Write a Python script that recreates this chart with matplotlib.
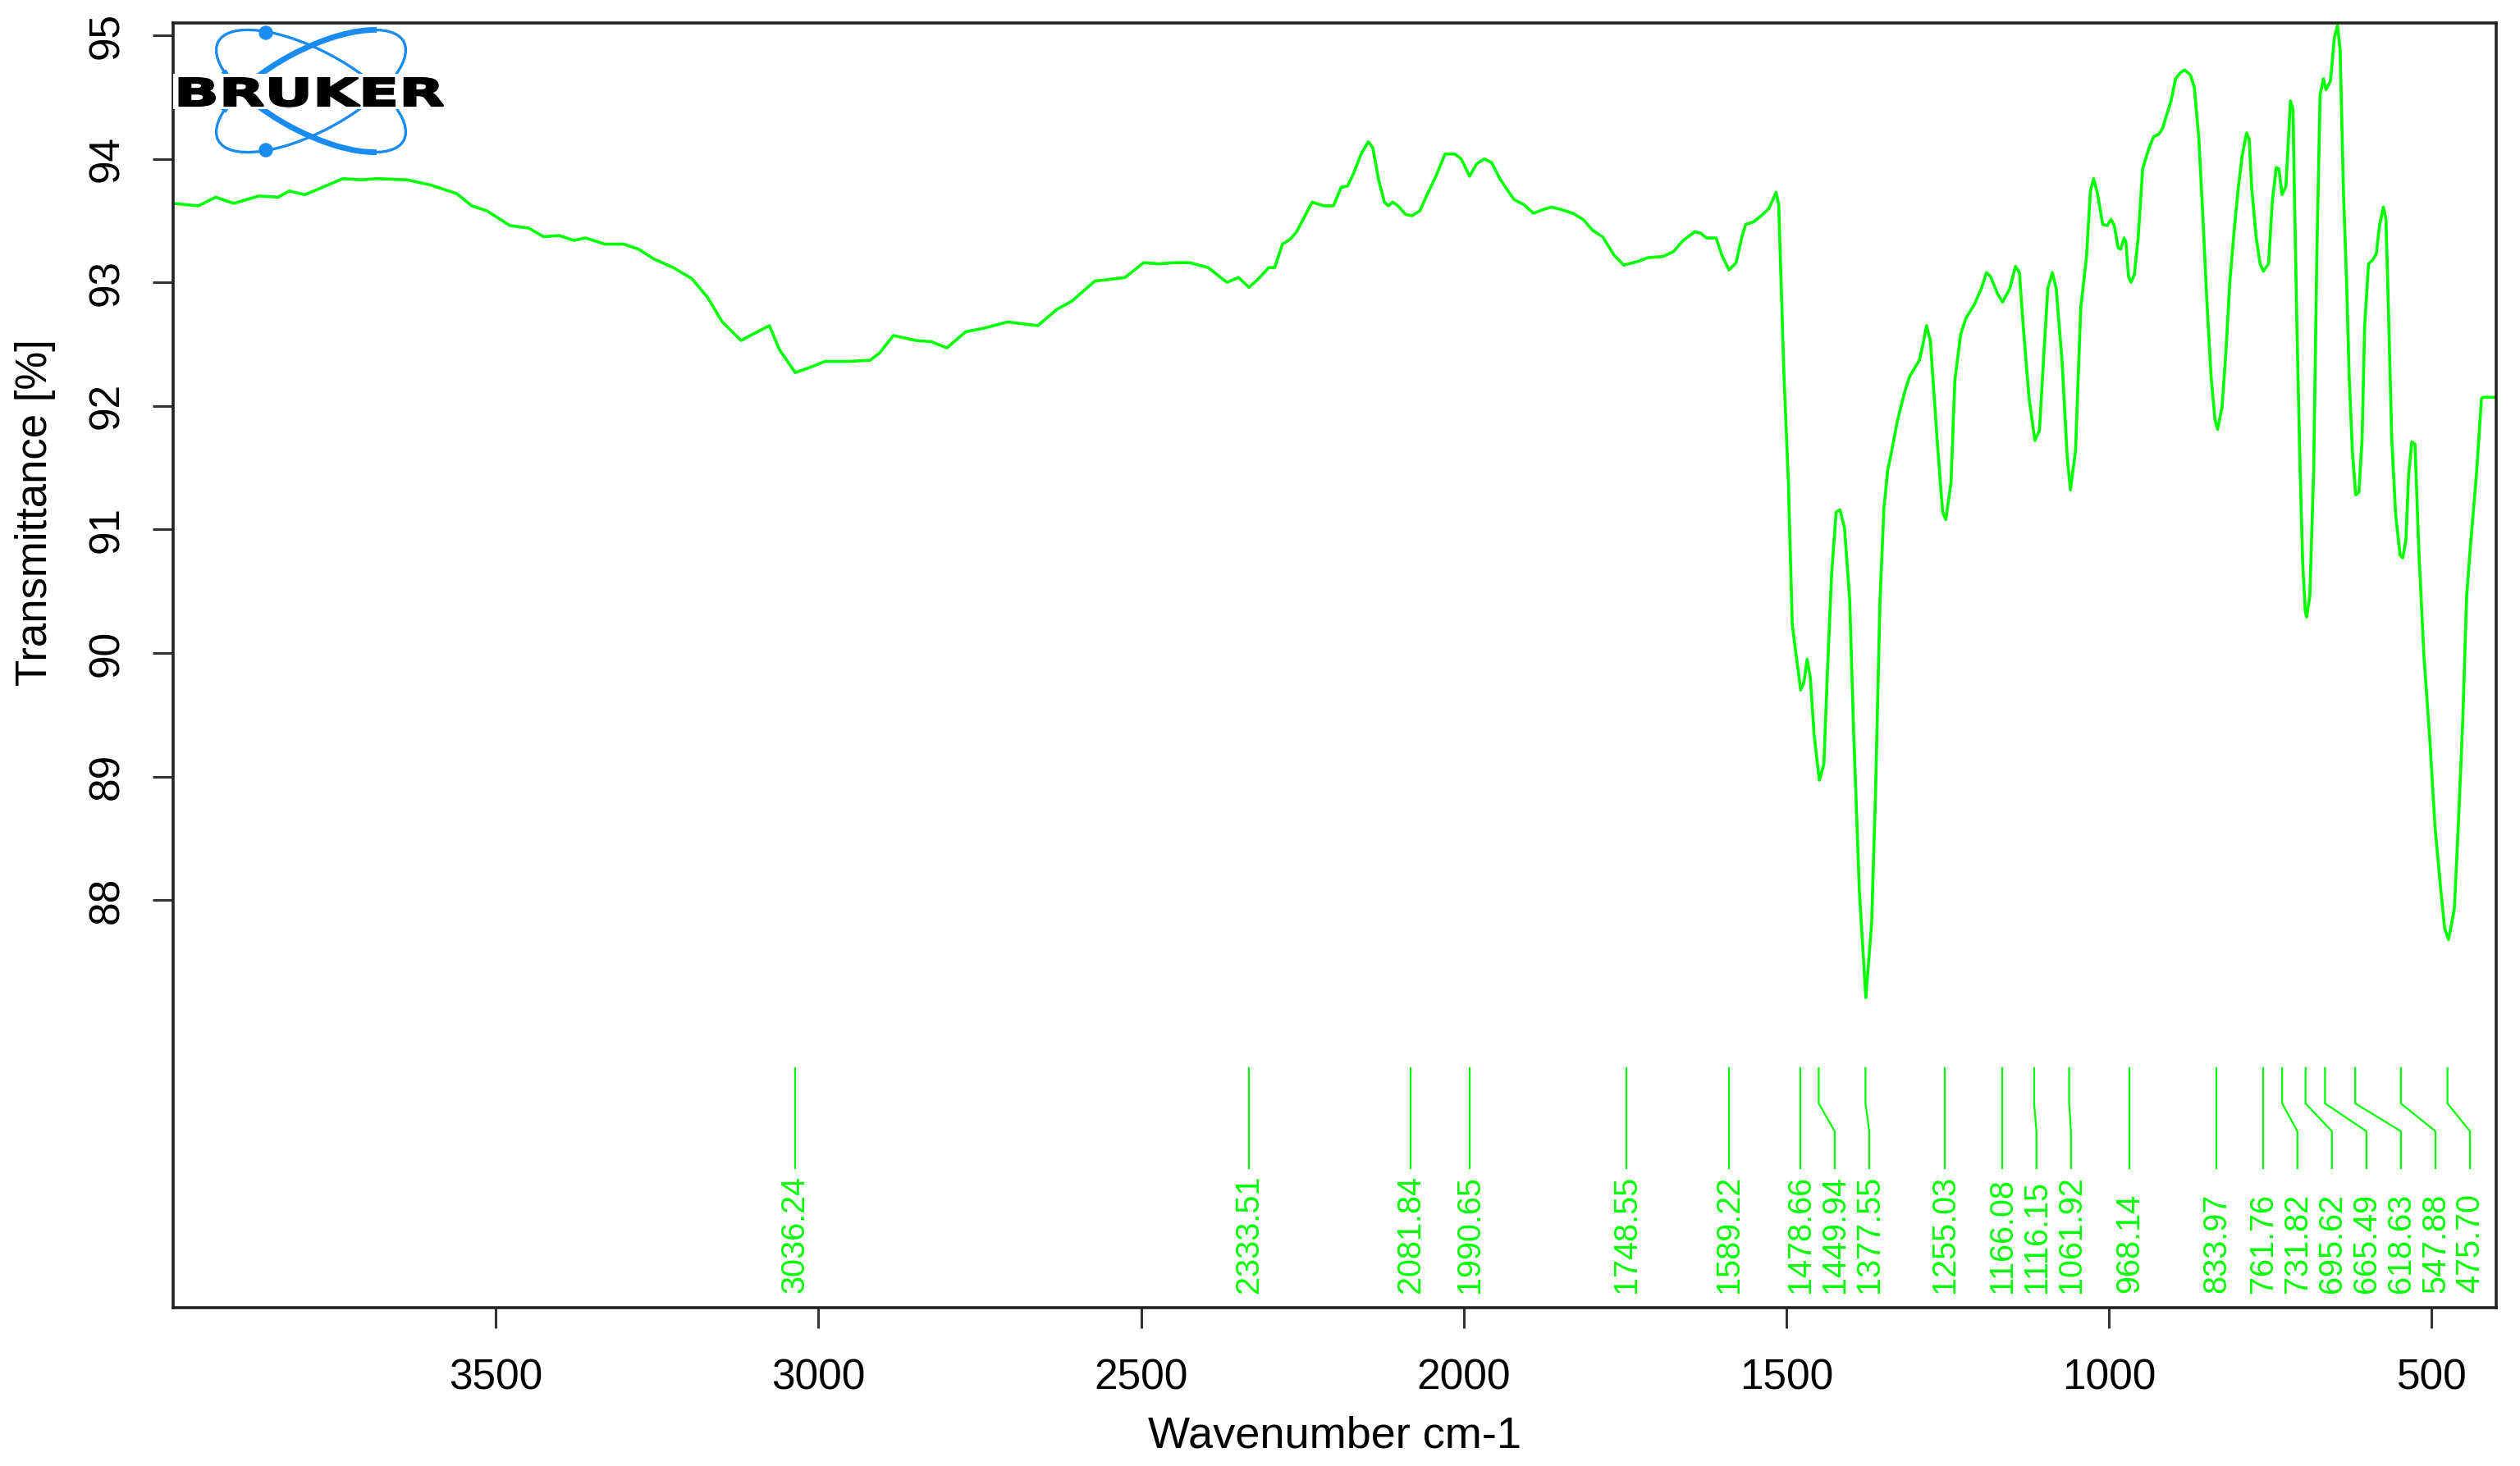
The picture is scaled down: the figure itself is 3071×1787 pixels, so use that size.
import matplotlib
matplotlib.use("Agg")
import matplotlib.pyplot as plt
from matplotlib import patheffects
from matplotlib.patches import Ellipse, Arc, Rectangle, Circle
from matplotlib.transforms import Affine2D
import numpy as np

plt.rcParams['font.family'] = ['Liberation Sans', 'DejaVu Sans']

# spectrum (wavenumber cm-1, transmittance %)
wavenumber = [
    4000, 3961, 3934, 3906, 3867, 3837, 3820, 3796, 3773, 3737, 3708, 3684, 3637, 3602,
    3561, 3537, 3514, 3478, 3449, 3426, 3402, 3379, 3361, 3331, 3302, 3279, 3255, 3225,
    3196, 3172, 3149, 3120, 3102, 3076, 3061, 3036, 3014, 2990, 2955, 2920, 2905, 2884,
    2849, 2825, 2801, 2772, 2743, 2707, 2660, 2631, 2607, 2572, 2525, 2496, 2472, 2449,
    2425, 2396, 2367, 2349, 2333, 2320, 2302, 2293, 2281, 2269, 2259, 2247, 2235, 2217,
    2202, 2190, 2180, 2171, 2159, 2148, 2141, 2132, 2123, 2117, 2110, 2102, 2090, 2080,
    2068, 2056, 2044, 2029, 2014, 2004, 1991, 1980, 1968, 1957, 1943, 1934, 1922, 1907,
    1892, 1877, 1864, 1849, 1831, 1815, 1800, 1785, 1767, 1752, 1730, 1715, 1691, 1675,
    1660, 1642, 1633, 1624, 1609, 1600, 1589, 1578, 1569, 1563, 1551, 1539, 1527, 1516,
    1512, 1504, 1497, 1491, 1478, 1473, 1468, 1463, 1457, 1449, 1442, 1436, 1430, 1423,
    1417, 1410, 1402, 1396, 1387, 1377, 1368, 1362, 1355, 1349, 1343, 1336, 1328, 1317,
    1309, 1294, 1288, 1283, 1277, 1266, 1258, 1253, 1245, 1239, 1230, 1222, 1209, 1198,
    1190, 1184, 1173, 1165, 1154, 1145, 1139, 1133, 1124, 1115, 1108, 1101, 1095, 1088,
    1082, 1073, 1065, 1060, 1052, 1044, 1035, 1029, 1024, 1018, 1010, 1003, 997, 992,
    986, 982, 977, 974, 970, 966, 961, 955, 948, 944, 938, 931, 923, 917, 910, 904, 897,
    889, 883, 874, 868, 861, 855, 849, 842, 836, 832, 825, 819, 813, 806, 800, 794, 787,
    783, 779, 772, 766, 761, 753, 747, 741, 737, 732, 726, 719, 715, 713, 709, 704, 700,
    696, 694, 689, 683, 678, 673, 668, 664, 657, 651, 646, 642, 637, 632, 628, 623, 618,
    613, 608, 604, 598, 592, 586, 581, 575, 571, 567, 562, 556, 549, 545, 540, 536, 531,
    526, 520, 512, 503, 495, 486, 480, 474, 465, 459, 452, 446, 440, 431, 423, 420, 400,
]
transmittance = [
    93.64, 93.62, 93.69, 93.64, 93.70, 93.69, 93.74, 93.71, 93.76, 93.84, 93.83, 93.84, 93.83, 93.79,
    93.72, 93.62, 93.58, 93.46, 93.44, 93.37, 93.38, 93.34, 93.36, 93.31, 93.31, 93.27, 93.19, 93.12,
    93.03, 92.88, 92.68, 92.53, 92.58, 92.65, 92.46, 92.27, 92.31, 92.36, 92.36, 92.37, 92.43, 92.57,
    92.53, 92.52, 92.47, 92.60, 92.63, 92.68, 92.65, 92.78, 92.85, 93.01, 93.04, 93.16, 93.15, 93.16,
    93.16, 93.12, 93.00, 93.04, 92.96, 93.02, 93.12, 93.12, 93.31, 93.35, 93.41, 93.53, 93.65, 93.62,
    93.62, 93.77, 93.78, 93.88, 94.04, 94.14, 94.09, 93.83, 93.65, 93.62, 93.65, 93.62, 93.55, 93.54,
    93.58, 93.72, 93.85, 94.04, 94.04, 94.00, 93.86, 93.96, 94.00, 93.97, 93.83, 93.76, 93.67, 93.63,
    93.56, 93.59, 93.61, 93.59, 93.56, 93.51, 93.42, 93.37, 93.22, 93.14, 93.17, 93.20, 93.21, 93.25,
    93.34, 93.41, 93.40, 93.36, 93.36, 93.22, 93.10, 93.16, 93.37, 93.47, 93.49, 93.54, 93.60, 93.73,
    93.63, 92.27, 91.38, 90.23, 89.70, 89.76, 89.95, 89.80, 89.33, 88.97, 89.10, 89.91, 90.64, 91.14,
    91.16, 91.01, 90.43, 89.38, 88.07, 87.21, 87.81, 88.86, 90.43, 91.17, 91.48, 91.66, 91.88, 92.11,
    92.24, 92.37, 92.51, 92.65, 92.53, 91.69, 91.14, 91.08, 91.38, 92.21, 92.58, 92.71, 92.82, 92.95,
    93.08, 93.05, 92.91, 92.84, 92.95, 93.13, 93.08, 92.64, 92.06, 91.72, 91.80, 92.43, 92.95, 93.08,
    92.95, 92.37, 91.59, 91.32, 91.64, 92.79, 93.21, 93.74, 93.84, 93.72, 93.47, 93.46, 93.51, 93.46,
    93.28, 93.27, 93.36, 93.33, 93.05, 93.00, 93.06, 93.36, 93.92, 93.99, 94.09, 94.18, 94.20, 94.25, 94.37, 94.47, 94.65,
    94.70, 94.72, 94.68, 94.58, 94.17, 93.56, 92.90, 92.24, 91.89, 91.81, 91.99, 92.44, 93.00, 93.43, 93.76, 94.02, 94.21,
    94.16, 93.76, 93.36, 93.15, 93.09, 93.15, 93.66, 93.93, 93.92, 93.71, 93.78, 94.47, 94.40, 93.76, 92.65, 91.48, 90.72,
    90.34, 90.29, 90.46, 91.48, 93.26, 94.52, 94.65, 94.56, 94.63, 94.98, 95.08, 94.88, 93.76, 93.00, 92.24, 91.63, 91.28,
    91.30, 91.73, 92.65, 93.15, 93.18, 93.23, 93.46, 93.61, 93.51, 92.75, 91.73, 91.12, 90.79, 90.77, 90.92, 91.43, 91.71,
    91.69, 90.82, 89.96, 89.30, 88.59, 88.08, 87.77, 87.68, 87.93, 88.59, 89.45, 90.46, 90.87, 91.43, 92.06, 92.07, 92.07,
]

peaks = [3036.24, 2333.51, 2081.84, 1990.65, 1748.55, 1589.22, 1478.66, 1449.94, 1377.55,
         1255.03, 1166.08, 1116.15, 1061.92, 968.14, 833.97, 761.76, 731.82, 695.62,
         665.49, 618.63, 547.88, 475.70]

xticks = [3500, 3000, 2500, 2000, 1500, 1000, 500]
yticks = [88, 89, 90, 91, 92, 93, 94, 95]

green = '#00ff00'
blue = '#1a8cf0'

fig = plt.figure(figsize=(30.71, 17.87), dpi=100)
ax = fig.add_axes([0.0687, 0.108, 0.9219, 0.8763])

ax.plot(wavenumber, transmittance, color=green, lw=2.6)
ax.set_xlim(4000, 400)
ax.set_ylim(84.7, 95.1)

ax.set_xticks(xticks)
ax.set_yticks(yticks)
for s in ax.spines.values():
    s.set_linewidth(2.6)
    s.set_color('#222222')
ax.tick_params(axis='both', length=18, width=2.2, color='#333333', labelsize=37)
ax.tick_params(axis='x', pad=26)
ax.tick_params(axis='y', pad=22, labelrotation=90)
plt.setp(ax.get_yticklabels(), va='center')

ax.set_xlabel('Wavenumber cm-1', fontsize=39)
ax.xaxis.set_label_coords(0.5, -0.1)
ax.xaxis.label.set_va('center')
ax.set_ylabel('Transmittance [%]', fontsize=38)
ax.yaxis.set_label_coords(-0.0594, 0.619)
ax.yaxis.label.set_va('center')

# peak picking marks, labels pushed apart where they crowd
gap = 53.5
label_pos = []
for p in peaks:
    q = p if not label_pos else min(p, label_pos[-1] - gap)
    label_pos.append(q)

trans = ax.get_xaxis_transform()
for p, q in zip(peaks, label_pos):
    ax.plot([p, p, q, q], [0.1865, 0.159, 0.1373, 0.1086], color=green, lw=1.6,
            transform=trans, clip_on=False)
    ax.text(q, 0.0115, f'{p:.2f}', transform=trans, rotation=90, ha='center', va='bottom',
            fontsize=28.5, color=green)


# BRUKER logo, drawn in figure pixel coordinates
class HStretch(patheffects.AbstractPathEffect):
    # widen the glyphs and thicken them a little
    def __init__(self, sx, lw):
        super().__init__()
        self.sx = sx
        self.lw = lw

    def draw_path(self, renderer, gc, tpath, affine, rgbFace=None):
        tr = Affine2D().scale(self.sx, 1.0) + affine
        gc0 = renderer.new_gc()
        gc0.copy_properties(gc)
        gc0.set_linewidth(self.lw)
        gc0.set_foreground(rgbFace)
        gc0.set_joinstyle('miter')
        renderer.draw_path(gc0, tpath, tr, rgbFace)
        gc0.restore()


W, H = 3071, 1787
lx0, lx1, ly0, ly1 = 200, 560, 20, 205
logo = fig.add_axes([lx0 / W, 1 - ly1 / H, (lx1 - lx0) / W, (ly1 - ly0) / H])
logo.set_xlim(lx0, lx1)
logo.set_ylim(ly1, ly0)
logo.axis('off')
logo.patch.set_alpha(0)
c = (379, 111)
logo.add_patch(Ellipse(c, 256, 100, angle=28, fill=False, ec=blue, lw=2.4))
logo.add_patch(Ellipse(c, 256, 100, angle=-28, fill=False, ec=blue, lw=2.4))
logo.add_patch(Arc(c, 256, 100, angle=28, theta1=15, theta2=165, ec=blue, lw=5))
logo.add_patch(Arc(c, 256, 100, angle=-28, theta1=195, theta2=345, ec=blue, lw=5))
logo.add_patch(Circle((324, 40), 8, color=blue))
logo.add_patch(Circle((324, 183), 8, color=blue))
logo.add_patch(Rectangle((211, 90), 334, 43, fc='white', ec='none'))
logo.text(212, 129, 'BRUKER', ha='left', va='baseline', fontsize=33.5,
          family='DejaVu Sans', fontweight='bold', color='black',
          path_effects=[HStretch(1.55, 1.6)])

fig.savefig('out.png', dpi=100)
